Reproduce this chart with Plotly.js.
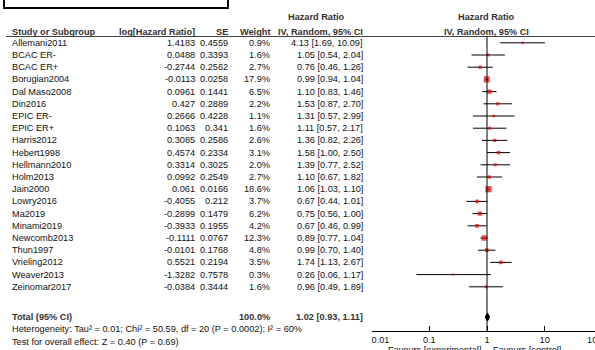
<!DOCTYPE html>
<html>
<head>
<meta charset="utf-8">
<script src="https://cdn.plot.ly/plotly-3.0.1.min.js"></script>
<style>
html,body{margin:0;padding:0;overflow:hidden;background:#fff;width:595px;height:350px;}
#chart{width:610px;height:350px;}
</style>
</head>
<body>
<div id="chart"></div>
<script>
// ---- data ----
const studies = ["Allemani2011","BCAC ER-","BCAC ER+","Borugian2004","Dal Maso2008","Din2016","EPIC ER-","EPIC ER+","Harris2012","Hebert1998","Hellmann2010","Holm2013","Jain2000","Lowry2016","Ma2019","Minami2019","Newcomb2013","Thun1997","Vrieling2012","Weaver2013","Zeinomar2017"];
const logHR = [1.4183,0.0488,-0.2744,-0.0113,0.0961,0.427,0.2666,0.1063,0.3085,0.4574,0.3314,0.0992,0.061,-0.4055,-0.2899,-0.3933,-0.1111,-0.0101,0.5521,-1.3282,-0.0384];
const se = [0.4559,0.3393,0.2562,0.0258,0.1441,0.2889,0.4228,0.341,0.2586,0.2334,0.3025,0.2549,0.0166,0.212,0.1479,0.1955,0.0767,0.1768,0.2194,0.7578,0.3444];
const weight = [0.9,1.6,2.7,17.9,6.5,2.2,1.1,1.6,2.6,3.1,2.0,2.7,18.6,3.7,6.2,4.2,12.3,4.8,3.5,0.3,1.6];
const hr = [4.13,1.05,0.76,0.99,1.10,1.53,1.31,1.11,1.36,1.58,1.39,1.10,1.06,0.67,0.75,0.67,0.89,0.99,1.74,0.26,0.96];
const lo = [1.69,0.54,0.46,0.94,0.83,0.87,0.57,0.57,0.82,1.00,0.77,0.67,1.03,0.44,0.56,0.46,0.77,0.70,1.13,0.06,0.49];
const hi = [10.09,2.04,1.26,1.04,1.46,2.70,2.99,2.17,2.26,2.50,2.52,1.82,1.10,1.01,1.00,0.99,1.04,1.40,2.67,1.17,1.89];
const totalHR = 1.02, totalLo = 0.93, totalHi = 1.11, totalWeight = 100.0;
const heterogeneity = "Heterogeneity: Tau² = 0.01; Chi² = 50.59, df = 20 (P = 0.0002); I² = 60%";
const overallTest = "Test for overall effect: Z = 0.40 (P = 0.69)";
const tickVals = [0.01,0.1,1,10,100];
const tickText = ["0.01","0.1","1","10","100"];

// ---- layout helpers ----
const W = 610, H = 350;
const ROW0 = 42.8, ROWH = 12.2;
const px = v => v / W;
const rowAt = p => (p - ROW0) / ROWH;
const FONT = "Arial, 'Liberation Sans', sans-serif";
const FS = 9.2;
const TXT = "#111";
const BOLD = "#333";
const NB = "\u00A0";

const ann = [];
function t(text, xp, yr, anchor, bold, color){
  ann.push({text: bold ? "<b>"+text+"</b>" : text, xref:"paper", yref:"y", x:px(xp), y:yr,
    xanchor:anchor, yanchor:"middle", showarrow:false, borderpad:0,
    font:{family:FONT, size:FS, color: color || (bold ? BOLD : TXT)}});
}
// headers
const h1 = rowAt(17), h2 = rowAt(31.5);
t("Hazard Ratio", 316, h1, "center", true);
t("Hazard Ratio", 486, h1, "center", true);
t("Study or Subgroup", 11, h2, "left", true);
t("log[Hazard Ratio]", 196, h2, "right", true);
t("SE", 229, h2, "right", true);
t("Weight", 271, h2, "right", true);
t("IV, Random, 95% CI", 364, h2, "right", true);
t("IV, Random, 95% CI", 486, h2, "center", true);

studies.forEach((s,i)=>{
  t(s, 11, i, "left");
  t(String(logHR[i]), 196, i, "right");
  t(String(se[i]), 229, i, "right");
  t(weight[i].toFixed(1)+"%", 271, i, "right");
  t(hr[i].toFixed(2)+" ["+lo[i].toFixed(2)+", "+hi[i].toFixed(2)+"]", 364, i, "right");
});
const totRow = rowAt(317);
t("Total (95% CI)", 11, totRow, "left", true);
t(totalWeight.toFixed(1)+"%", 271, totRow, "right", true);
t(totalHR.toFixed(2)+" ["+totalLo.toFixed(2)+", "+totalHi.toFixed(2)+"]", 364, totRow, "right", true);
t(heterogeneity, 11, rowAt(329), "left");
t(overallTest, 11, rowAt(341.5), "left");

// favours labels under the axis
ann.push({text:"Favours [experimental]", xref:"x", yref:"y", x:0, y:rowAt(349.5), xanchor:"right", xshift:-4, yanchor:"middle", showarrow:false, font:{family:FONT,size:FS,color:TXT}});
ann.push({text:"Favours [control]", xref:"x", yref:"y", x:0, y:rowAt(349.5), xanchor:"left", xshift:4, yanchor:"middle", showarrow:false, font:{family:FONT,size:FS,color:TXT}});

// first tick label sits right of its tick, last one left of it (as in the source)
const tickLabels = tickText.map((s,i)=>{
  if (i === 0) return NB.repeat(7) + s;
  if (i === tickText.length-1) return s + NB.repeat(6);
  return s;
});

// ---- traces ----
const rows = studies.map((_,i)=>i);
const ciX = [], ciY = [];
rows.forEach(i=>{ ciX.push(lo[i], hi[i], null); ciY.push(i, i, null); });

const ciTrace = {type:"scatter", mode:"lines", x:ciX, y:ciY, line:{color:"#000", width:1},
  hoverinfo:"skip", showlegend:false};
const sqTrace = {type:"scatter", mode:"markers", x:hr, y:rows,
  marker:{symbol:"square", color:"#e00000", size:weight.map(w=>1.5+1.1*Math.sqrt(w)), line:{width:0}},
  hoverinfo:"skip", showlegend:false, cliponaxis:false};
const dh = 0.33;
const diamond = {type:"scatter", mode:"lines", x:[totalLo,totalHR,totalHi,totalHR,totalLo],
  y:[totRow, totRow-dh, totRow, totRow+dh, totRow], fill:"toself", fillcolor:"#000",
  line:{color:"#000", width:1}, hoverinfo:"skip", showlegend:false};

const axisPx = 331;
const layout = {
  width:W, height:H, margin:{l:0,r:0,t:0,b:0}, paper_bgcolor:"#fff", plot_bgcolor:"rgba(0,0,0,0)",
  showlegend:false, hovermode:false,
  xaxis:{type:"log", range:[-2,2], domain:[px(371.6), px(602.4)], anchor:"free", position:1-axisPx/H,
    tickvals:tickVals, ticktext:tickLabels, ticks:"inside", ticklen:5, tickwidth:1, tickcolor:"#000",
    ticklabeloverflow:"allow",
    showline:true, linecolor:"#000", linewidth:1, showgrid:false, zeroline:false, fixedrange:true,
    tickfont:{family:FONT, size:FS, color:TXT}},
  yaxis:{range:[rowAt(H), rowAt(0)], domain:[0,1], visible:false, fixedrange:true},
  annotations:ann,
  shapes:[
    {type:"rect", xref:"paper", yref:"paper", x0:px(4), x1:px(228), y0:1-8/H, y1:1+5/H, line:{color:"#000", width:2}, fillcolor:"rgba(0,0,0,0)"},
    {type:"line", xref:"paper", yref:"y", x0:px(6), x1:1, y0:rowAt(36.5), y1:rowAt(36.5), line:{color:"#444", width:1}},
    {type:"line", xref:"x", yref:"y", x0:1, x1:1, y0:rowAt(36.5), y1:rowAt(axisPx), line:{color:"#000", width:1}}
  ]
};
Plotly.newPlot("chart", [ciTrace, sqTrace, diamond], layout, {displayModeBar:false, staticPlot:true});
</script>
</body>
</html>
